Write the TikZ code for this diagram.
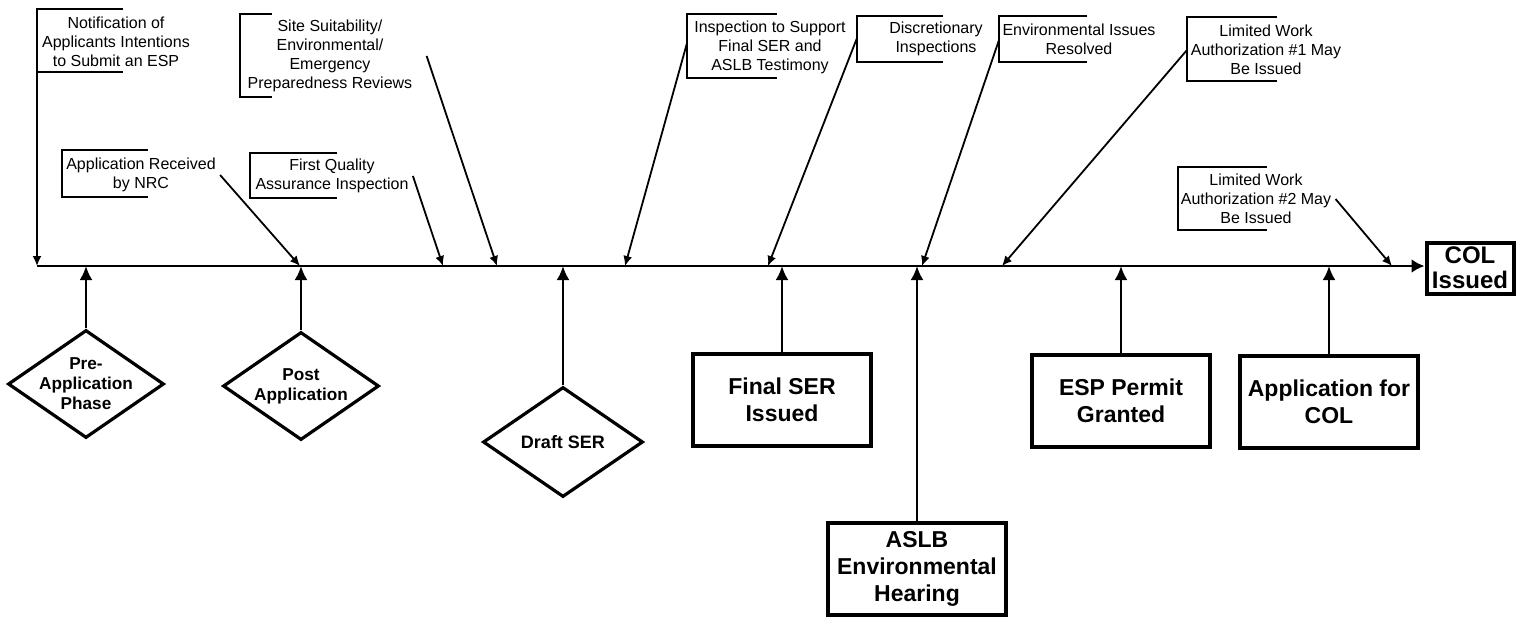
\documentclass[tikz,border=0pt]{standalone}
\usepackage{fontspec}
\setmainfont{Liberation Sans}
\usetikzlibrary{arrows.meta,shapes.geometric}

\begin{document}
\begin{tikzpicture}[
		x=0.5pt, y=-0.5pt,
		lbl/.style={align=center, inner sep=2pt, font=\fontsize{8}{9.5}\selectfont},
		brk/.style={line width=0.7pt},
		dn/.style={line width=0.9pt, -{Latex[length=5pt,width=4.5pt]}},
		up/.style={line width=1.3pt, -{Latex[length=7pt,width=6.5pt]}},
		diam/.style={diamond, draw, line width=1.6pt, inner sep=0pt, minimum width=78pt, minimum height=54pt},
		dtxt/.style={align=center, inner sep=0pt, font=\bfseries\fontsize{8.6}{10}\selectfont},
		bigbox/.style={rectangle, draw, line width=1.6pt, minimum width=89pt, minimum height=46pt,
			align=center, inner sep=1pt, font=\bfseries\fontsize{11.5}{13.5}\selectfont}]
	\useasboundingbox (0,0) rectangle (1517,618);
	%% time line
	\coordinate (t0) at (37,266);
	\node (col) at (1470,268) [bigbox, minimum width=43.5pt, minimum height=25.5pt, inner sep=0pt,
		line width=2pt, font=\bfseries\fontsize{12}{12.5}\selectfont] {COL\\Issued};
	\draw[line width=1.4pt, -{Latex[length=6.5pt,width=7pt]}] (t0) -- (col.west |- t0);
	%% phases and results below the line
	\node (pre) at (86,384) [diam, label={[dtxt]center:Pre-\\Application\\Phase}] {};
	\node (post) at (301,386) [diam, label={[dtxt]center:Post\\Application}] {};
	\node (draft) at (563,442) [diam, minimum width=80pt, minimum height=55pt,
		label={[dtxt, font=\bfseries\fontsize{9}{10}\selectfont]center:Draft SER}] {};
	\node (final) at (782,400) [bigbox] {Final SER\\Issued};
	\node (aslb) at (917,569) [bigbox] {ASLB\\Environmental\\Hearing};
	\node (esp) at (1121,401) [bigbox] {ESP Permit\\Granted};
	\node (acol) at (1329,402) [bigbox] {Application for\\COL};
	\foreach \n in {pre,post,draft,final,aslb,esp,acol}
		\draw[up] (\n.north) -- (\n.north |- t0);
	%% milestones above the line
	\node (notif) at (116,42) [lbl] {Notification of\\Applicants Intentions\\to Submit an ESP};
	\node (recv) at (141,175) [lbl] {Application Received\\by NRC};
	\node (fqa) at (332,176) [lbl] {First Quality\\Assurance Inspection};
	\node (site) at (330,56) [lbl] {Site Suitability/\\Environmental/\\Emergency\\Preparedness Reviews};
	\node (insp) at (770,47) [lbl] {Inspection to Support\\Final SER and\\ASLB Testimony};
	\node (disc) at (936,39) [lbl] {Discretionary\\Inspections};
	\node (envi) at (1079,39) [lbl] {Environmental Issues\\Resolved};
	\node (lwa1) at (1266,50) [lbl] {Limited Work\\Authorization \#1 May\\Be Issued};
	\node (lwa2) at (1256,199) [lbl] {Limited Work\\Authorization \#2 May\\Be Issued};
	%% open brackets round the milestones
	\foreach \l/\t/\b/\r in {37/9/72/123, 62/150/197/148, 250/153/198/337, 240/14/97/272,
			687/14/78/777, 857/16/62/943, 999/16/62/1087, 1187/17/81/1277, 1178/167/230/1267}
		\draw[brk] (\r,\t) -- (\l,\t) -- (\l,\b) -- (\r,\b);
	\coordinate (notif-a) at (37,9);
	\coordinate (insp-a) at (687,43);
	\coordinate (disc-a) at (857,38);
	\coordinate (envi-a) at (999,40);
	\coordinate (lwa1-a) at (1187,50);
	\coordinate (recv-a) at (recv.east);
	\coordinate (fqa-a) at (fqa.east);
	\coordinate (site-a) at ([xshift=5pt]site.east);
	\coordinate (lwa2-a) at (lwa2.east);
	%% arrows down to the line
	\foreach \n/\x in {notif/37, recv/300, fqa/443, site/497, insp/625, disc/768, envi/922, lwa1/1002, lwa2/1392} {
		\coordinate (\n-t) at (\x,266);
		\draw[dn] (\n-a) -- (\n-t);
	}
\end{tikzpicture}
\end{document}
